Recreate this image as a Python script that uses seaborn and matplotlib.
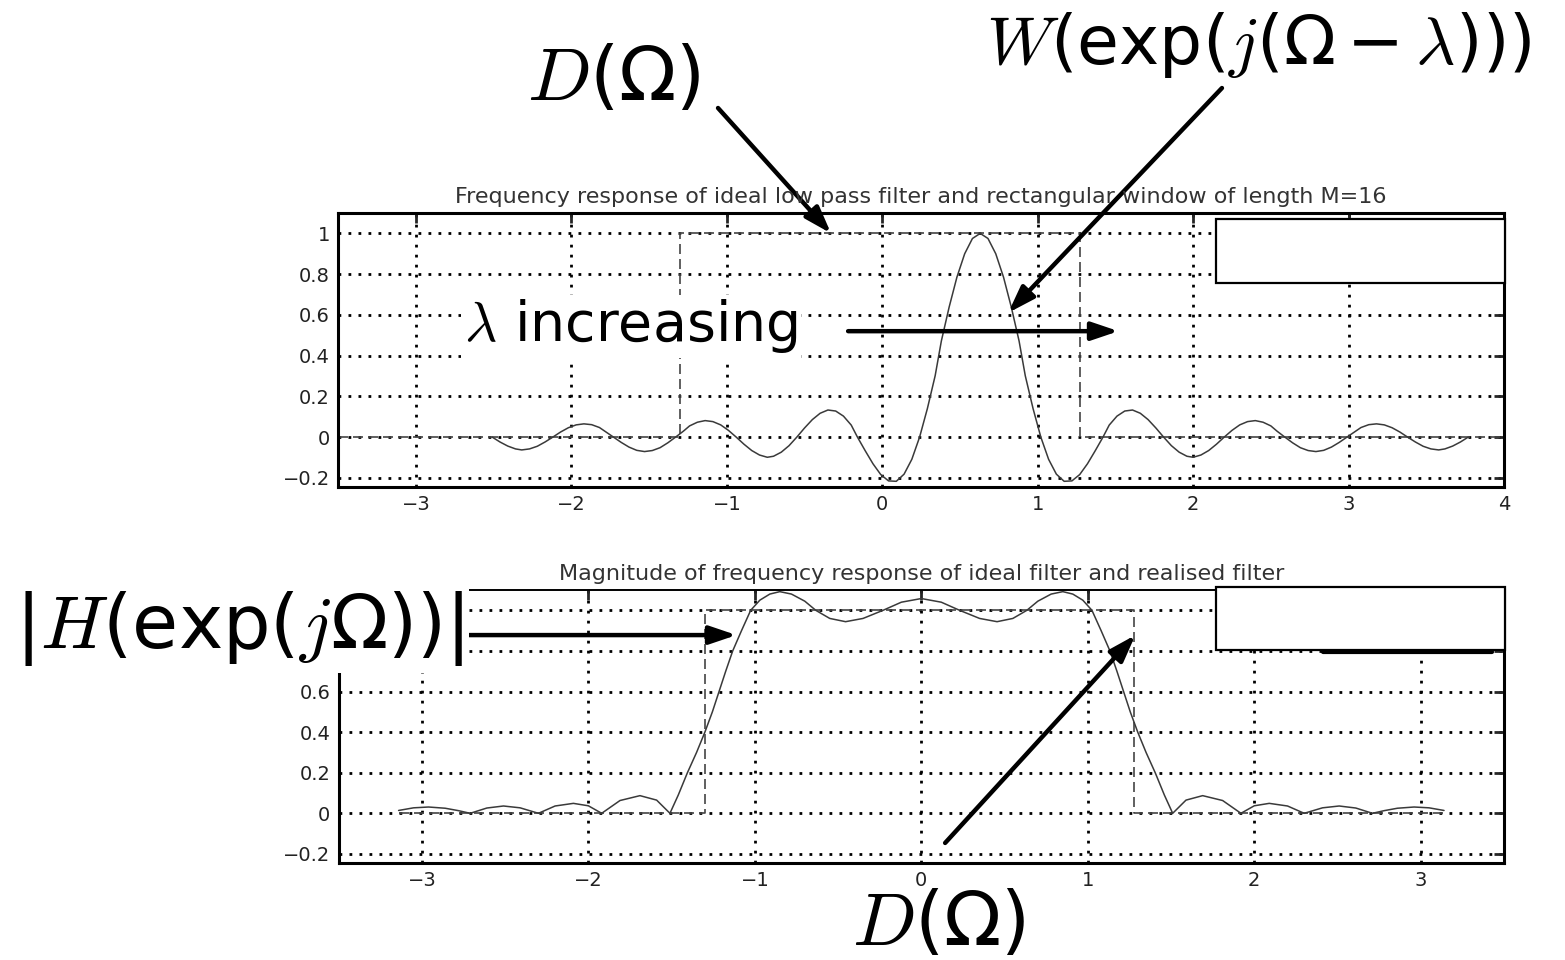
import matplotlib
matplotlib.use("Agg")
import matplotlib.pyplot as plt
import seaborn as sns
from matplotlib.patches import Rectangle

# window response W(exp(j(Omega - lambda))) for M=16
w_omega = [-2.51, -2.46, -2.41, -2.36, -2.32, -2.27, -2.22, -2.17, -2.12, -2.07,
           -2.02, -1.97, -1.92, -1.87, -1.82, -1.78, -1.73, -1.68, -1.63, -1.58,
           -1.53, -1.48, -1.43, -1.38, -1.33, -1.28, -1.24, -1.19, -1.14, -1.09,
           -1.04, -0.99, -0.94, -0.89, -0.84, -0.79, -0.74, -0.70, -0.65, -0.60,
           -0.55, -0.50, -0.45, -0.40, -0.35, -0.30, -0.25, -0.20, -0.16, -0.11,
           -0.06, -0.01, 0.04, 0.09, 0.14, 0.19, 0.24, 0.29, 0.34, 0.38,
           0.43, 0.48, 0.53, 0.58, 0.63, 0.68, 0.73, 0.78, 0.83, 0.88,
           0.92, 0.97, 1.02, 1.07, 1.12, 1.17, 1.22, 1.27, 1.32, 1.37,
           1.42, 1.46, 1.51, 1.56, 1.61, 1.66, 1.71, 1.76, 1.81, 1.86,
           1.91, 1.96, 2.00, 2.05, 2.10, 2.15, 2.20, 2.25, 2.30, 2.35,
           2.40, 2.45, 2.50, 2.54, 2.59, 2.64, 2.69, 2.74, 2.79, 2.84,
           2.89, 2.94, 2.99, 3.04, 3.08, 3.13, 3.18, 3.23, 3.28, 3.33,
           3.38, 3.43, 3.48, 3.53, 3.58, 3.62, 3.67, 3.72, 3.77]
w_vals = [0.0, -0.024, -0.044, -0.058, -0.063, -0.058, -0.045, -0.024, 0.0, 0.025,
          0.046, 0.060, 0.065, 0.061, 0.047, 0.026, 0.0, -0.026, -0.049, -0.065,
          -0.071, -0.066, -0.052, -0.028, 0.0, 0.029, 0.055, 0.073, 0.081, 0.076,
          0.060, 0.033, 0.0, -0.035, -0.066, -0.088, -0.099, -0.094, -0.074, -0.042,
          0.0, 0.045, 0.086, 0.117, 0.133, 0.128, 0.103, 0.059, 0.0, -0.067,
          -0.131, -0.184, -0.215, -0.217, -0.182, -0.109, 0.0, 0.140, 0.301, 0.472,
          0.638, 0.785, 0.90, 0.975, 1.0, 0.975, 0.90, 0.785, 0.638, 0.472,
          0.301, 0.140, 0.0, -0.109, -0.182, -0.217, -0.215, -0.184, -0.131, -0.067,
          0.0, 0.059, 0.103, 0.128, 0.133, 0.117, 0.086, 0.045, 0.0, -0.042,
          -0.074, -0.094, -0.099, -0.088, -0.066, -0.035, 0.0, 0.033, 0.060, 0.076,
          0.081, 0.073, 0.055, 0.029, 0.0, -0.028, -0.052, -0.066, -0.071, -0.065,
          -0.049, -0.026, 0.0, 0.026, 0.047, 0.061, 0.065, 0.060, 0.046, 0.025,
          0.0, -0.024, -0.045, -0.058, -0.063, -0.058, -0.044, -0.024, 0.0]

# ideal low pass D(Omega)
d_top_omega = [-3.5, -1.30, -1.30, 1.275, 1.275, 4.0]
d_top_vals = [0, 0, 1, 1, 0, 0]
d_bot_omega = [-3.14, -1.30, -1.30, 1.275, 1.275, 3.14]
d_bot_vals = [0, 0, 1, 1, 0, 0]

# realised filter |H(exp(j Omega))|
h_omega = [-3.14, -3.05, -2.96, -2.86, -2.78, -2.71, -2.61, -2.51, -2.41, -2.30,
           -2.20, -2.09, -2.00, -1.92, -1.81, -1.69, -1.59, -1.51, -1.46, -1.405,
           -1.35, -1.30, -1.255, -1.215, -1.175, -1.133, -1.08, -1.025, -0.97, -0.91,
           -0.85, -0.78, -0.70, -0.634, -0.55, -0.455, -0.35, -0.23, -0.12, 0.0,
           0.12, 0.23, 0.35, 0.455, 0.55, 0.634, 0.70, 0.78, 0.85, 0.91,
           0.97, 1.025, 1.08, 1.133, 1.175, 1.215, 1.255, 1.30, 1.35, 1.405,
           1.46, 1.51, 1.59, 1.69, 1.81, 1.92, 2.00, 2.09, 2.20, 2.30,
           2.41, 2.51, 2.61, 2.71, 2.78, 2.86, 2.96, 3.05, 3.14]
h_vals = [0.014, 0.027, 0.031, 0.025, 0.013, 0.0, 0.026, 0.036, 0.027, 0.0,
          0.036, 0.049, 0.037, 0.0, 0.063, 0.087, 0.065, 0.0, 0.09, 0.20,
          0.30, 0.40, 0.50, 0.60, 0.70, 0.80, 0.90, 1.00, 1.05, 1.08,
          1.092, 1.08, 1.045, 1.00, 0.96, 0.944, 0.96, 1.00, 1.04, 1.058,
          1.04, 1.00, 0.96, 0.944, 0.96, 1.00, 1.045, 1.08, 1.092, 1.08,
          1.05, 1.00, 0.90, 0.80, 0.70, 0.60, 0.50, 0.40, 0.30, 0.20,
          0.09, 0.0, 0.065, 0.087, 0.063, 0.0, 0.037, 0.049, 0.036, 0.0,
          0.027, 0.036, 0.026, 0.0, 0.013, 0.025, 0.031, 0.027, 0.014]

y_ticks = [-0.2, 0, 0.2, 0.4, 0.6, 0.8, 1]
top_ylabels = ["\u22120.2", "0", "0.2", "0.4", "0.6", "0.8", "1"]
# "1" and "0.8" of the lower panel sit under the |H| label box
bot_ylabels = ["\u22120.2", "0", "0.2", "0.4", "0.6", "", ""]
top_xticks = [-3, -2, -1, 0, 1, 2, 3, 4]
top_xlabels = ["\u22123", "\u22122", "\u22121", "0", "1", "2", "3", "4"]
bot_xticks = [-3, -2, -1, 0, 1, 2, 3]
bot_xlabels = ["\u22123", "\u22122", "\u22121", "0", "1", "2", "3"]

top_title = "Frequency response of ideal low pass filter and rectangular window of length M=16"
bot_title = "Magnitude of frequency response of ideal filter and realised filter"

sns.set_style("white")
plt.rcParams["font.family"] = ["DejaVu Sans"]
plt.rcParams["text.color"] = "black"
plt.rcParams["mathtext.fontset"] = "custom"
plt.rcParams["mathtext.rm"] = "DejaVu Sans"
plt.rcParams["mathtext.it"] = "cmmi10"
plt.rcParams["mathtext.fallback"] = "cm"

CURVE = "#3a3a3a"
DASH = "#444444"


def style_axes(ax, xticks, xlabels, ylabels, xlim, title):
    ax.set_xlim(*xlim)
    ax.set_ylim(-0.245, 1.10)
    ax.set_xticks(xticks)
    ax.set_xticklabels(xlabels)
    ax.set_yticks(y_ticks)
    ax.set_yticklabels(ylabels)
    ax.set_xlabel("")
    ax.set_ylabel("")
    ax.grid(True, color="black", linestyle=(0, (1, 2.6)), linewidth=2.0)
    ax.tick_params(direction="in", length=7, width=2, top=True, right=True,
                   labelsize=14, pad=6, labelcolor="#222222")
    for s in ax.spines.values():
        s.set_linewidth(2.2)
        s.set_color("black")
    ax.set_title(title, fontsize=16, color="#333333", pad=7)


def arrow(ax, tip, tail, tail_coords="data"):
    ax.annotate("", xy=tip, xycoords="data", xytext=tail, textcoords=tail_coords,
                arrowprops=dict(arrowstyle="-|>,head_length=0.65,head_width=0.22",
                                mutation_scale=25, lw=3.2, color="black",
                                shrinkA=0, shrinkB=0),
                annotation_clip=False)


fig = plt.figure(figsize=(15.65, 9.6), dpi=100)
ax1 = fig.add_axes([0.2162, 0.4927, 0.7448, 0.2854])
ax2 = fig.add_axes([0.2164, 0.1010, 0.7446, 0.2844])

# top panel
sns.lineplot(x=d_top_omega, y=d_top_vals, ax=ax1, estimator=None, sort=False,
             color=DASH, linewidth=1.2, linestyle=(0, (6, 3)))
sns.lineplot(x=w_omega, y=w_vals, ax=ax1, estimator=None, sort=False,
             color=CURVE, linewidth=1.1)
style_axes(ax1, top_xticks, top_xlabels, top_ylabels, (-3.5, 4.0), top_title)
ax1.add_patch(Rectangle((0.753, 0.745), 0.248, 0.233, transform=ax1.transAxes,
                        facecolor="white", edgecolor="black", linewidth=1.6,
                        clip_on=False, zorder=5))

# bottom panel
sns.lineplot(x=d_bot_omega, y=d_bot_vals, ax=ax2, estimator=None, sort=False,
             color=DASH, linewidth=1.2, linestyle=(0, (6, 3)))
sns.lineplot(x=h_omega, y=h_vals, ax=ax2, estimator=None, sort=False,
             color=CURVE, linewidth=1.1)
style_axes(ax2, bot_xticks, bot_xlabels, bot_ylabels, (-3.5, 3.5), bot_title)
ax2.spines["top"].set_linewidth(1.4)
ax2.add_patch(Rectangle((0.753, 0.78), 0.248, 0.232, transform=ax2.transAxes,
                        facecolor="white", edgecolor="black", linewidth=1.6,
                        clip_on=False, zorder=5))
ax2.plot([0.845, 0.99], [0.773, 0.773], transform=ax2.transAxes, color="black",
         lw=3, clip_on=False, zorder=4)

# labels and arrows
fig.text(0.3367, 0.8958, r"$D(\Omega)$", fontsize=54, ha="left", va="baseline")
fig.text(0.630, 0.9333, r"$W(\mathrm{exp}(j(\Omega-\lambda)))$", fontsize=49,
         ha="left", va="baseline")
ax1.text(-2.69, 0.47, r"$\lambda$ increasing", fontsize=40, ha="left", va="baseline",
         bbox=dict(facecolor="white", edgecolor="none", pad=2), zorder=4)
fig.text(0.0096, 0.325, r"$|H(\mathrm{exp}(j\Omega))|$", fontsize=54, ha="left",
         va="baseline", bbox=dict(facecolor="white", edgecolor="none", pad=4))
fig.text(0.5444, 0.0156, r"$D(\Omega)$", fontsize=54, ha="left", va="baseline")

arrow(ax1, (-0.33, 1.0), (0.4588, 0.8875), "figure fraction")
arrow(ax1, (0.81, 0.61), (0.7808, 0.9083), "figure fraction")
arrow(ax1, (1.52, 0.52), (-0.22, 0.52))
arrow(ax2, (-1.11, 0.878), (-2.715, 0.878))
arrow(ax2, (1.286, 0.878), (0.143, -0.146))

fig.savefig("out.png", dpi=100)
